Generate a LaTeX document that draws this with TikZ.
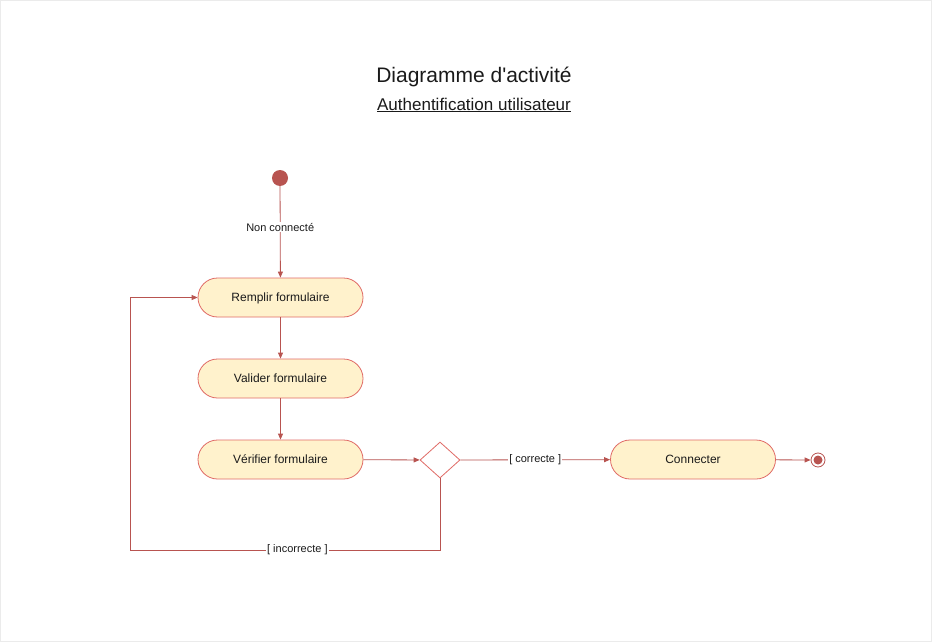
\documentclass[tikz,border=0pt]{standalone}
\usepackage{fontspec}
\setmainfont{Liberation Sans}
\newfontfamily\titlefont{Liberation Sans}[Ligatures=ResetAll]
\usetikzlibrary{shapes.geometric,arrows.meta}
\definecolor{edgec}{HTML}{B85450}
\definecolor{boxline}{HTML}{E06B66}
\definecolor{boxfill}{HTML}{FFF2CC}
\definecolor{txt}{HTML}{1A1A1A}
\tikzset{
  act/.style={draw=boxline, fill=boxfill, rounded corners=19.5pt, minimum width=165pt, minimum height=39pt, inner sep=0pt, font=\fontsize{12}{14}\selectfont, text=txt, line width=0.8pt, text depth=0pt, text height=7pt},
  flow/.style={draw=edgec, line width=0.8pt, -{Triangle[length=6pt,width=5pt]}},
  plain/.style={draw=edgec, line width=0.8pt},
  lbl/.style={fill=white, inner sep=1pt, font=\fontsize{11}{13}\selectfont, text=txt},
}
\begin{document}
\begin{tikzpicture}[x=1pt,y=-1pt]
\useasboundingbox (0,0) rectangle (932,642);
\fill[white] (0,0) rectangle (932,642);
\draw[black!8, line width=0.6pt] (0.5,0.5) rectangle (931.5,641.5);
\node[font=\titlefont\fontsize{21}{24}\selectfont, text=txt] (title) at (474,77) {Diagramme d'activité};
\node[font=\fontsize{17}{20}\selectfont, text=txt] (sub) at (474,105) {\underline{Authentification utilisateur}};

\node[circle, fill=edgec, minimum size=16pt, inner sep=0pt] (start) at (280,178) {};
\node[act] (remplir) at (280.5,297.5) {Remplir formulaire};
\node[act] (valider) at (280.5,378.5) {Valider formulaire};
\node[act] (verifier) at (280.5,459.5) {Vérifier formulaire};
\node[diamond, draw=boxline, fill=white, line width=0.8pt, minimum width=40pt, minimum height=36pt, inner sep=0pt, aspect=1.11] (dec) at (440,460) {};
\node[act] (connecter) at (693,459.5) {Connecter};
\node[circle, draw=edgec, fill=white, line width=0.8pt, minimum size=14pt, inner sep=0pt] (end) at (818,460) {};
\node[circle, fill=edgec, minimum size=9pt, inner sep=0pt] (endin) at (818,460) {};

\draw[flow] (start) -- node[lbl, pos=0.45] {Non connecté} (remplir);
\draw[flow] (remplir) -- (valider);
\draw[flow] (valider) -- (verifier);
\draw[flow] (verifier) -- (dec);
\draw[flow] (dec) -- node[lbl] {[ correcte ]} (connecter);
\draw[flow] (connecter) -- (end);
\coordinate (c1) at (440,550);
\coordinate (c2) at (130,550);
\coordinate (c3) at (130,297.5);
\draw[plain] (dec.south) -- (c1) -- node[lbl, pos=0.46] {[ incorrecte ]} (c2) -- (c3);
\draw[flow] (c3) -- (remplir.west);
\end{tikzpicture}
\end{document}
